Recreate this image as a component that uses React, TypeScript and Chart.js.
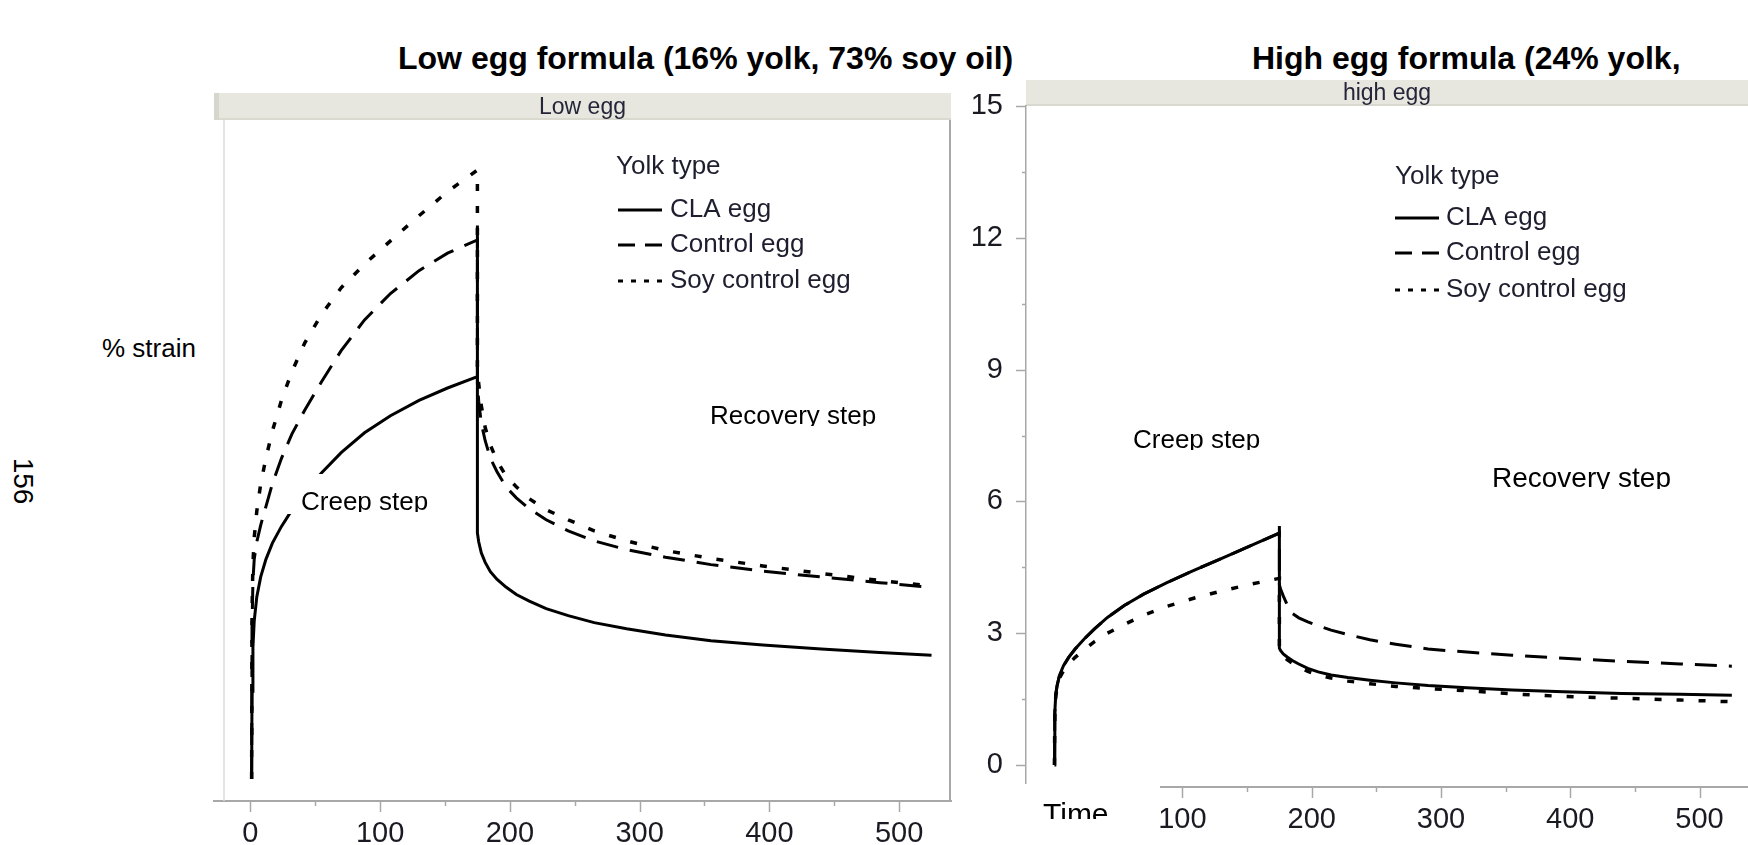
import React, { useEffect, useRef } from 'react';
import { Chart, registerables } from 'chart.js';

Chart.register(...registerables);

const FONT = '"Liberation Sans", Arial, Helvetica, sans-serif';

// ---------- data ----------
const creepTime = [1, 1.3, 2, 3, 5, 8, 12, 17, 24, 32, 42, 55, 70, 88, 108, 130, 152, 175];
const recoveryTime = [175, 176, 178, 181, 185, 190, 197, 205, 215, 228, 245, 265, 290, 320, 355, 395, 440, 485, 525];
const seriesNames = ['CLA egg', 'Control egg', 'Soy control egg'];

// Low egg panel
const lowClaCreep = [0, 2.0, 3.0, 3.6, 4.15, 4.6, 5.0, 5.37, 5.75, 6.12, 6.52, 6.97, 7.43, 7.88, 8.27, 8.62, 8.9, 9.16];
const lowControlCreep = [0, 3.5, 4.5, 5.0, 5.4, 5.78, 6.2, 6.72, 7.3, 7.85, 8.4, 9.05, 9.75, 10.45, 11.05, 11.57, 11.97, 12.27];
const lowSoyCreep = [0, 3.8, 4.9, 5.5, 6.1, 6.72, 7.3, 7.92, 8.62, 9.27, 9.93, 10.58, 11.18, 11.72, 12.25, 12.82, 13.37, 13.86];
const lowSpike = [12.6, null, null];
const lowClaRecovery = [5.6, 5.4, 5.15, 4.93, 4.72, 4.55, 4.37, 4.2, 4.05, 3.88, 3.72, 3.56, 3.42, 3.28, 3.15, 3.05, 2.96, 2.88, 2.82];
const lowControlRecovery = [9.0, 8.6, 8.1, 7.7, 7.3, 7.0, 6.65, 6.4, 6.15, 5.9, 5.65, 5.42, 5.22, 5.05, 4.88, 4.73, 4.6, 4.47, 4.36];
const lowSoyRecovery = [9.4, 9.0, 8.5, 8.0, 7.6, 7.25, 6.9, 6.65, 6.38, 6.13, 5.9, 5.65, 5.42, 5.2, 5.02, 4.85, 4.68, 4.52, 4.39];

// High egg panel
const highClaCreep = [0, 1.2, 1.6, 1.8, 2.05, 2.26, 2.45, 2.64, 2.87, 3.1, 3.36, 3.63, 3.89, 4.15, 4.42, 4.7, 4.98, 5.28];
const highControlCreep = [0, 1.2, 1.6, 1.8, 2.05, 2.26, 2.45, 2.64, 2.87, 3.1, 3.36, 3.63, 3.89, 4.15, 4.42, 4.7, 4.98, 5.28];
const highSoyCreep = [0, 1.15, 1.55, 1.75, 1.98, 2.15, 2.3, 2.45, 2.63, 2.81, 3.0, 3.2, 3.41, 3.61, 3.79, 3.96, 4.11, 4.25];
const highSpike = [5.44, null, null];
const highClaRecovery = [2.66, 2.6, 2.53, 2.46, 2.38, 2.3, 2.2, 2.12, 2.05, 1.99, 1.93, 1.87, 1.81, 1.76, 1.71, 1.67, 1.63, 1.61, 1.59];
const highControlRecovery = [4.1, 4.0, 3.85, 3.65, 3.45, 3.35, 3.26, 3.17, 3.07, 2.97, 2.85, 2.75, 2.64, 2.57, 2.5, 2.43, 2.36, 2.3, 2.25];
const highSoyRecovery = [2.6, 2.55, 2.48, 2.4, 2.32, 2.23, 2.13, 2.05, 1.98, 1.91, 1.85, 1.79, 1.74, 1.69, 1.62, 1.56, 1.52, 1.48, 1.44];

// ticks
const xTicksLow = [0, 100, 200, 300, 400, 500];
const xMinorLow = [50, 150, 250, 350, 450];
const xTicksHigh = [100, 200, 300, 400, 500];
const xMinorHigh = [150, 250, 350, 450];
const yTicksHigh = [0, 3, 6, 9, 12, 15];
const yMinorHigh = [1.5, 4.5, 7.5, 10.5, 13.5];

// ---------- styles ----------
const lineDash = [[], [22, 12], [7, 15]];
const legendDash = [[], [17, 10], [5, 8]];
const lineWidths = [3, 3, 3.5];

function buildPoints(creep: number[], spike: number | null, recovery: number[]) {
  const pts = creepTime.map((t, i) => ({ x: t, y: creep[i] }));
  if (spike != null) pts.push({ x: 175, y: spike });
  recoveryTime.forEach((t, i) => pts.push({ x: t, y: recovery[i] }));
  return pts;
}

type Note = { text: string; x: number; base: number; clip: number; size?: number; box?: number[] };

const panels: any[] = [
  {
    key: 'low',
    left: 190, top: 80, w: 770, h: 765,
    padding: { left: 24, top: 40, right: 9, bottom: 0 },
    xMin: -28, xMax: 540, xAxisH: 44,
    showY: false, yAxisW: 0,
    xTicks: xTicksLow, xMinor: xMinorLow,
    header: 'Low egg', headerH: 27,
    frame: true,
    series: [
      [lowClaCreep, lowSpike[0], lowClaRecovery],
      [lowControlCreep, lowSpike[1], lowControlRecovery],
      [lowSoyCreep, lowSpike[2], lowSoyRecovery],
    ],
    legend: { x: 616, titleY: 167, rowsY: [210, 245, 281], sampleX: 618, sampleW: 44, textX: 670 },
    notes: [
      { text: 'Creep step', x: 301, base: 510, clip: 512, box: [284, 474, 440, 514] },
      { text: 'Recovery step', x: 710, base: 424, clip: 426 },
    ] as Note[],
  },
  {
    key: 'high',
    left: 940, top: 60, w: 808, h: 785,
    padding: { left: 0, top: 46, right: 0, bottom: 0 },
    xMin: -21, xMax: 537.5, xAxisH: 58,
    showY: true, yAxisW: 86,
    xTicks: xTicksHigh, xMinor: xMinorHigh,
    header: 'high egg', headerH: 26,
    frame: false,
    series: [
      [highClaCreep, highSpike[0], highClaRecovery],
      [highControlCreep, highSpike[1], highControlRecovery],
      [highSoyCreep, highSpike[2], highSoyRecovery],
    ],
    legend: { x: 1395, titleY: 177, rowsY: [218, 253, 290], sampleX: 1395, sampleW: 44, textX: 1446 },
    notes: [
      { text: 'Creep step', x: 1133, base: 448, clip: 450 },
      { text: 'Recovery step', x: 1492, base: 487, clip: 489, size: 28 },
    ] as Note[],
    timeBox: { x0: 1018, y0: 784, x1: 1160, tx: 1043, base: 824, clip: 819 },
  },
];

function makeDecor(cfg: any) {
  const L = cfg.left;
  const T = cfg.top;
  return {
    id: 'decor',
    beforeDraw(chart: any) {
      const { ctx, chartArea: a } = chart;
      ctx.save();
      ctx.fillStyle = '#e7e7df';
      ctx.fillRect(a.left, a.top - cfg.headerH, a.right - a.left, cfg.headerH);
      ctx.fillStyle = '#d9d9d0';
      ctx.fillRect(a.left, a.top - 2, a.right - a.left, 2);
      if (cfg.frame) {
        ctx.fillStyle = '#d6d6cd';
        ctx.fillRect(a.left, a.top - cfg.headerH, 5, cfg.headerH);
      }
      ctx.fillStyle = '#25253a';
      ctx.font = `23px ${FONT}`;
      ctx.textAlign = 'center';
      ctx.textBaseline = 'middle';
      ctx.fillText(cfg.header, (a.left + a.right) / 2, a.top - cfg.headerH / 2 + 1);
      ctx.restore();
    },
    afterDraw(chart: any) {
      const { ctx, chartArea: a } = chart;
      const xs = chart.scales.x;
      const ys = chart.scales.y;
      ctx.save();
      // frame
      if (cfg.frame) {
        ctx.strokeStyle = '#dadada';
        ctx.lineWidth = 1.5;
        ctx.beginPath();
        ctx.moveTo(a.left + 10, a.top);
        ctx.lineTo(a.left + 10, a.bottom);
        ctx.stroke();
        ctx.strokeStyle = '#a8a8a8';
        ctx.lineWidth = 2;
        ctx.beginPath();
        ctx.moveTo(a.right - 1, a.top);
        ctx.lineTo(a.right - 1, a.bottom);
        ctx.stroke();
      }
      // tick marks
      ctx.strokeStyle = '#a8a8a8';
      ctx.lineWidth = 1.5;
      const tick = (x1: number, y1: number, x2: number, y2: number) => {
        ctx.beginPath();
        ctx.moveTo(x1, y1);
        ctx.lineTo(x2, y2);
        ctx.stroke();
      };
      cfg.xTicks.forEach((v: number) => {
        const px = Math.round(xs.getPixelForValue(v)) + 0.5;
        tick(px, a.bottom, px, a.bottom + 11);
      });
      cfg.xMinor.forEach((v: number) => {
        const px = Math.round(xs.getPixelForValue(v)) + 0.5;
        tick(px, a.bottom, px, a.bottom + 5);
      });
      if (cfg.showY) {
        yTicksHigh.forEach((v) => {
          const py = Math.round(ys.getPixelForValue(v)) + 0.5;
          tick(a.left - 10, py, a.left, py);
        });
        yMinorHigh.forEach((v) => {
          const py = Math.round(ys.getPixelForValue(v)) + 0.5;
          tick(a.left - 4, py, a.left, py);
        });
      }
      // annotations
      cfg.notes.forEach((n: Note) => {
        if (n.box) {
          ctx.fillStyle = '#ffffff';
          ctx.fillRect(n.box[0] - L, n.box[1] - T, n.box[2] - n.box[0], n.box[3] - n.box[1]);
        }
        ctx.save();
        ctx.beginPath();
        ctx.rect(0, 0, chart.width, n.clip - T);
        ctx.clip();
        ctx.fillStyle = '#000000';
        ctx.font = `${n.size || 26}px ${FONT}`;
        ctx.textAlign = 'left';
        ctx.textBaseline = 'alphabetic';
        ctx.fillText(n.text, n.x - L, n.base - T);
        ctx.restore();
      });
      // legend
      const lg = cfg.legend;
      ctx.font = `26px ${FONT}`;
      ctx.textAlign = 'left';
      ctx.textBaseline = 'middle';
      ctx.fillStyle = '#1e1e2e';
      ctx.fillText('Yolk type', lg.x - L, lg.titleY - T);
      chart.data.datasets.forEach((ds: any, i: number) => {
        const y = lg.rowsY[i] - T;
        ctx.strokeStyle = '#000000';
        ctx.lineWidth = 3;
        ctx.setLineDash(legendDash[i]);
        ctx.beginPath();
        ctx.moveTo(lg.sampleX - L, y);
        ctx.lineTo(lg.sampleX + lg.sampleW - L, y);
        ctx.stroke();
        ctx.setLineDash([]);
        ctx.fillStyle = '#1e1e2e';
        ctx.fillText(ds.label, lg.textX - L, y);
      });
      // "Time" box
      if (cfg.timeBox) {
        const tb = cfg.timeBox;
        ctx.fillStyle = '#ffffff';
        ctx.fillRect(tb.x0 - L, tb.y0 - T, tb.x1 - tb.x0, chart.height - (tb.y0 - T));
        ctx.save();
        ctx.beginPath();
        ctx.rect(0, 0, chart.width, tb.clip - T);
        ctx.clip();
        ctx.fillStyle = '#000000';
        ctx.font = `30px ${FONT}`;
        ctx.textBaseline = 'alphabetic';
        ctx.fillText('Time', tb.tx - L, tb.base - T);
        ctx.restore();
      }
      ctx.restore();
    },
  };
}

function Panel({ cfg }: { cfg: any }) {
  const ref = useRef<HTMLCanvasElement>(null);
  useEffect(() => {
    if (!ref.current) return;
    const datasets = cfg.series.map((s: any[], i: number) => ({
      label: seriesNames[i],
      data: buildPoints(s[0], s[1], s[2]),
      borderColor: '#000000',
      backgroundColor: '#000000',
      borderWidth: lineWidths[i],
      borderDash: lineDash[i],
      pointRadius: 0,
      tension: 0,
      fill: false,
    }));
    const chart = new Chart(ref.current, {
      type: 'line',
      data: { datasets },
      options: {
        animation: false,
        responsive: false,
        devicePixelRatio: 1,
        events: [],
        layout: { padding: cfg.padding, autoPadding: false },
        plugins: { legend: { display: false }, tooltip: { enabled: false }, title: { display: false } },
        scales: {
          x: {
            type: 'linear',
            position: 'bottom',
            min: cfg.xMin,
            max: cfg.xMax,
            grid: { display: false },
            border: { display: true, color: '#a8a8a8', width: 2 },
            afterBuildTicks: (scale: any) => {
              scale.ticks = cfg.xTicks.map((v: number) => ({ value: v }));
            },
            afterFit: (scale: any) => {
              scale.height = cfg.xAxisH;
            },
            ticks: {
              color: '#1a1a22',
              font: { family: FONT, size: 29 },
              padding: 8,
              maxRotation: 0,
              autoSkip: false,
              callback: (v: any) => String(v),
            },
          },
          y: {
            type: 'linear',
            display: cfg.showY,
            min: -0.5,
            max: 15,
            grid: { display: false },
            border: { display: true, color: '#a8a8a8', width: 1.5 },
            afterBuildTicks: (scale: any) => {
              scale.ticks = yTicksHigh.map((v) => ({ value: v }));
            },
            afterFit: (scale: any) => {
              scale.width = cfg.yAxisW;
            },
            ticks: {
              color: '#1a1a22',
              font: { family: FONT, size: 29 },
              padding: 15,
              autoSkip: false,
              callback: (v: any) => String(v),
            },
          },
        },
      },
      plugins: [makeDecor(cfg)],
    } as any);
    return () => chart.destroy();
  }, []);
  return (
    <canvas
      ref={ref}
      width={cfg.w}
      height={cfg.h}
      style={{ position: 'absolute', left: cfg.left, top: cfg.top, width: cfg.w, height: cfg.h }}
    />
  );
}

export default function App() {
  useEffect(() => {
    document.body.style.margin = '0';
  }, []);
  return (
    <div
      style={{
        position: 'absolute',
        left: 0,
        top: 0,
        width: 1748,
        height: 845,
        overflow: 'hidden',
        background: '#ffffff',
        fontFamily: FONT,
        color: '#000',
      }}
    >
      <div style={{ position: 'absolute', left: 398, top: 42, fontWeight: 'bold', fontSize: 32, lineHeight: '32px', whiteSpace: 'nowrap' }}>
        Low egg formula (16% yolk, 73% soy oil)
      </div>
      <div style={{ position: 'absolute', left: 1252, top: 42, fontWeight: 'bold', fontSize: 32, lineHeight: '32px', whiteSpace: 'nowrap' }}>
        High egg formula (24% yolk,
      </div>
      <div style={{ position: 'absolute', left: 102, top: 335, fontSize: 26, lineHeight: '26px', whiteSpace: 'nowrap' }}>% strain</div>
      <div
        style={{
          position: 'absolute',
          left: 23,
          top: 481,
          fontSize: 28,
          lineHeight: '28px',
          whiteSpace: 'nowrap',
          transform: 'translate(-50%, -50%) rotate(90deg)',
        }}
      >
        156
      </div>
      {panels.map((p) => (
        <Panel key={p.key} cfg={p} />
      ))}
    </div>
  );
}
